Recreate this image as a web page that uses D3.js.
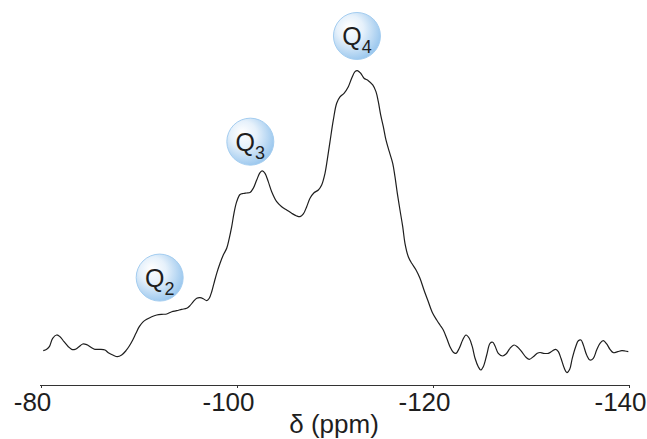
<!DOCTYPE html>
<html>
<head>
<meta charset="utf-8">
<script src="https://cdn.jsdelivr.net/npm/d3@7"></script>
<style>
  html, body { margin: 0; padding: 0; background: #fff; }
  svg { display: block; }
  text { font-family: "Liberation Sans", Arial, Helvetica, sans-serif; }
</style>
</head>
<body>
<svg id="chart" width="647" height="439"></svg>
<script>
// 29Si NMR spectrum: chemical shift (ppm) and relative intensity (a.u.)
const shift = [
  -80.23, -80.58, -80.85, -81.19, -81.60, -81.94, -82.35, -82.79, -83.13, -83.47,
  -83.81, -84.26, -84.66, -85.17, -85.51, -86.02, -86.53, -86.87, -87.38, -87.79,
  -88.23, -88.67, -89.01, -89.36, -89.69, -90.03, -90.44, -90.79, -91.30, -91.81,
  -92.32, -92.83, -93.34, -93.85, -94.36, -94.87, -95.20, -95.54, -95.89, -96.22,
  -96.56, -96.91, -97.17, -97.42, -97.65, -97.93, -98.27, -98.60, -98.95, -99.21,
  -99.46, -99.69, -99.97, -100.31, -100.64, -100.99, -101.33, -101.66, -102.01, -102.35,
  -102.58, -102.86, -103.19, -103.54, -104.05, -104.56, -105.07, -105.58, -106.09, -106.43,
  -106.77, -107.11, -107.45, -107.86, -108.30, -108.64, -108.98, -109.21, -109.49, -109.83,
  -110.17, -110.51, -110.92, -111.36, -111.70, -112.04, -112.28, -112.62, -112.96, -113.40,
  -113.85, -114.18, -114.42, -114.66, -114.93, -115.20, -115.54, -115.89, -116.12, -116.36,
  -116.63, -116.91, -117.14, -117.48, -117.83, -118.27, -118.67, -119.08, -119.52, -119.97,
  -120.38, -120.71, -121.05, -121.40, -121.73, -122.07, -122.35, -122.68, -123.03, -123.37,
  -123.70, -124.01, -124.29, -124.62, -124.87, -125.13, -125.48, -125.82, -126.09, -126.33,
  -126.66, -127.11, -127.45, -127.86, -128.27, -128.60, -129.05, -129.49, -129.83, -130.23,
  -130.64, -130.92, -131.26, -131.77, -132.17, -132.52, -132.79, -133.06, -133.40, -133.67,
  -133.95, -134.21, -134.56, -134.83, -135.10, -135.34, -135.68, -136.02, -136.36, -136.70,
  -137.04, -137.38, -137.72, -138.06, -138.40, -138.85, -139.26, -139.59, -139.93
];
const intensity = [
  10.89, 11.33, 12.16, 14.83, 15.88, 15.34, 13.75, 12.16, 11.33, 11.33,
  11.97, 13.02, 12.80, 11.84, 11.33, 11.33, 11.11, 10.26, 9.43, 8.99,
  9.53, 10.89, 12.38, 14.29, 16.41, 18.51, 20.10, 20.86, 21.69, 22.23,
  22.45, 22.54, 23.27, 23.59, 24.03, 24.35, 25.18, 26.45, 27.53, 27.72,
  27.40, 26.77, 27.53, 29.62, 32.29, 35.46, 38.64, 41.28, 43.40, 46.58,
  50.26, 54.51, 58.20, 60.48, 60.80, 60.96, 61.12, 62.45, 65.09, 67.41,
  67.95, 67.21, 64.55, 61.37, 58.20, 56.61, 55.56, 54.51, 53.66, 53.44,
  54.29, 56.61, 59.28, 61.05, 61.91, 63.50, 67.21, 71.44, 77.25, 84.14,
  89.44, 91.44, 92.61, 94.71, 97.38, 99.47, 99.79, 98.96, 97.38, 96.62,
  95.25, 93.12, 89.95, 85.73, 82.01, 77.79, 74.07, 70.39, 66.14, 60.86,
  55.56, 50.26, 44.99, 40.74, 38.64, 36.51, 33.88, 30.16, 26.45, 22.76,
  20.64, 19.05, 17.46, 14.83, 12.16, 10.38, 10.06, 11.65, 14.29, 15.88,
  14.83, 12.16, 8.48, 5.81, 4.76, 5.81, 9.53, 13.24, 13.56, 12.38,
  10.06, 9.21, 9.84, 11.65, 12.70, 12.16, 10.57, 8.79, 8.16, 8.99,
  10.06, 10.32, 10.06, 10.06, 10.80, 11.33, 10.57, 8.48, 5.30, 3.91,
  4.98, 8.48, 12.16, 14.07, 14.29, 12.70, 9.53, 7.94, 8.48, 11.11,
  13.24, 14.07, 13.02, 11.33, 10.26, 10.57, 10.89, 10.80, 10.57
];

// Axis ticks
const tickValues = [-80, -100, -120, -140];

// Peak assignments: label, subscript, bubble position (ppm, a.u.)
const peakNames = ["Q", "Q", "Q"];
const peakSubs = ["2", "3", "4"];
const peakShift = [-92.11, -101.36, -112.24];
const peakLevel = [34.1, 77.25, 110.8];

const svg = d3.select("#chart");
const W = 647, H = 439;

const x = d3.scaleLinear().domain([-80, -140]).range([41, 629]);
const y = d3.scaleLinear().domain([0, 100]).range([385, 70]);

svg.append("rect").attr("width", W).attr("height", H).attr("fill", "#fff");

// Bubble gradient
const defs = svg.append("defs");
const grad = defs.append("radialGradient")
  .attr("id", "bubble")
  .attr("cx", "40%").attr("cy", "40%").attr("r", "62%")
  .attr("fx", "32%").attr("fy", "30%");
grad.append("stop").attr("offset", "0%").attr("stop-color", "#ffffff");
grad.append("stop").attr("offset", "45%").attr("stop-color", "#e6f1fb");
grad.append("stop").attr("offset", "100%").attr("stop-color", "#9cc8ee");

// Spectrum
const pts = shift.map((s, i) => [s, intensity[i]]);
const line = d3.line()
  .x(d => x(d[0]))
  .y(d => y(d[1]))
  .curve(d3.curveCatmullRom.alpha(0.5));

svg.append("path")
  .datum(pts)
  .attr("d", line)
  .attr("fill", "none")
  .attr("stroke", "#1e1e1e")
  .attr("stroke-width", 1.2)
  .attr("stroke-linejoin", "round");

// x axis
const axis = d3.axisBottom(x)
  .tickValues(tickValues)
  .tickSize(3)
  .tickSizeOuter(0)
  .tickFormat(d => d3.format("d")(d).replace("−", "-"));

const gx = svg.append("g")
  .attr("transform", `translate(0,${y(0)})`)
  .call(axis);
gx.select(".domain")
  .attr("d", `M${x(-80) - 1},0.5H${x(-140) + 1}`)
  .attr("stroke", "#333").attr("stroke-width", 1.2);
gx.selectAll(".tick line").attr("stroke", "#333");
gx.selectAll(".tick text")
  .attr("fill", "#1e1e1e")
  .attr("font-size", 26)
  .attr("font-family", "'Liberation Sans', Arial, sans-serif")
  .attr("dx", -9)
  .attr("y", 8)
  .attr("dy", "0.71em");

// Axis title
svg.append("text")
  .attr("x", 334)
  .attr("y", 433)
  .attr("text-anchor", "middle")
  .attr("font-size", 26)
  .attr("fill", "#1e1e1e")
  .text("δ (ppm)");

// Peak bubbles
const peaks = peakNames.map((n, i) => ({ n, s: peakSubs[i], px: peakShift[i], py: peakLevel[i] }));
const pg = svg.selectAll("g.peak").data(peaks).join("g")
  .attr("class", "peak")
  .attr("transform", d => `translate(${x(d.px)},${y(d.py)})`);

pg.append("circle")
  .attr("r", 23.5)
  .attr("fill", "url(#bubble)")
  .attr("stroke", "#a4cdf0")
  .attr("stroke-width", 1);

const t = pg.append("text")
  .attr("text-anchor", "middle")
  .attr("fill", "#1e1e1e")
  .attr("y", 9);
t.append("tspan").attr("font-size", 25).text(d => d.n);
t.append("tspan").attr("font-size", 18).attr("dy", 8).text(d => d.s);
</script>
</body>
</html>
